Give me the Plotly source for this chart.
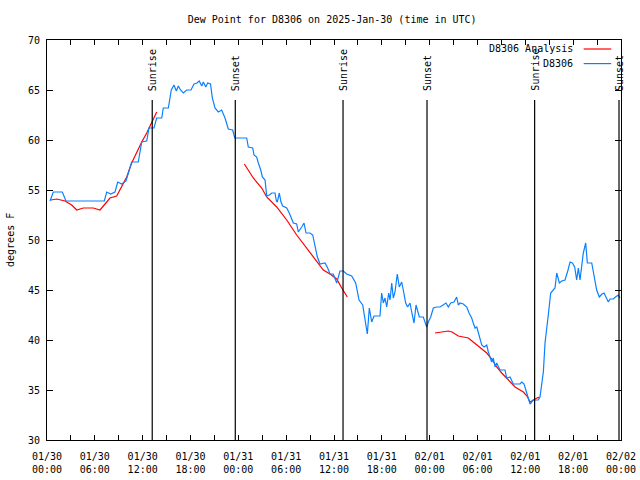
import pandas as pd
import plotly.graph_objects as go

START = pd.Timestamp("2025-01-30 00:00")
END = pd.Timestamp("2025-02-02 00:00")

# Observed dew point (hours since 2025-01-30 00:00 UTC, degrees F)
obs_hours = [0.38,0.79,1.92,2.38,7.19,7.49,7.99,8.53,8.87,9.37,
             9.91,10.20,10.62,11.45,11.88,12.51,12.79,13.42,13.76,14.39,
             14.59,15.22,15.59,15.93,16.22,16.47,16.75,17.10,17.52,18.06,
             18.44,18.82,19.10,19.41,19.61,19.91,20.16,20.51,20.74,21.07,
             21.49,21.91,22.33,22.74,23.29,23.55,25.05,25.25,25.80,25.97,
             26.30,26.51,26.81,27.01,27.35,27.56,27.89,28.19,28.60,28.77,
             28.89,29.14,29.35,29.57,30.07,30.39,30.90,31.32,31.52,31.95,
             32.24,32.49,32.99,33.33,33.62,33.91,34.25,34.87,35.21,35.50,
             35.91,36.34,36.75,37.17,37.59,38.22,38.72,39.14,39.60,39.89,
             40.18,40.43,40.73,41.02,41.77,41.98,42.19,42.40,42.61,42.86,
             43.03,43.24,43.44,43.65,43.94,44.19,44.49,44.69,44.99,45.24,
             45.53,45.82,46.04,46.29,46.50,46.70,47.20,47.42,47.63,47.83,
             48.13,48.46,48.88,49.30,49.64,50.05,50.34,50.64,51.05,51.39,
             51.59,51.81,52.22,52.65,52.94,53.27,53.47,53.69,53.91,54.11,
             54.53,54.82,55.16,55.36,55.57,55.78,55.98,56.20,56.41,56.61,
             56.82,57.45,57.66,58.08,58.49,59.33,59.55,59.84,60.17,60.59,
             61.00,61.63,61.84,62.05,62.26,62.47,62.68,62.88,63.18,63.72,
             63.94,64.27,64.57,64.98,65.32,65.61,65.90,66.19,66.44,66.65,
             66.86,67.07,67.27,67.57,67.78,68.33,68.61,68.95,69.28,69.62,
             69.87,70.21,70.41,70.62,71.04,71.31,71.66,71.88]
obs_values = [53.9,54.8,54.8,53.9,53.9,54.8,54.6,54.8,55.8,55.6,
              55.9,56.8,57.8,57.8,59.8,59.9,61.2,61.2,62.2,62.2,
              63.2,63.2,65.0,65.5,64.9,65.4,65.0,64.7,65.0,65.0,
              65.6,65.7,65.9,65.4,65.8,65.3,65.7,65.6,64.2,63.2,
              62.8,63.0,62.2,61.1,61.0,60.2,60.2,59.3,59.2,58.5,
              58.3,57.7,57.0,56.3,56.0,54.4,54.5,54.7,54.7,53.9,
              53.8,54.7,53.8,53.4,53.2,52.7,51.7,51.6,50.8,51.3,
              51.7,50.7,50.7,50.5,49.5,48.3,47.6,47.7,47.2,46.6,
              46.6,45.7,46.9,46.9,46.6,46.4,45.7,44.0,43.5,42.1,
              40.6,43.2,41.8,42.4,42.4,44.7,43.7,44.2,43.3,44.7,
              44.0,45.7,44.2,44.8,46.6,45.3,45.8,45.0,43.7,43.3,
              43.7,42.5,41.7,43.5,42.8,42.3,42.3,41.7,41.3,41.8,
              42.3,43.2,43.3,43.3,43.5,43.7,43.3,43.7,43.8,44.3,
              43.5,43.7,43.6,43.3,42.7,42.2,41.7,41.2,41.3,40.7,
              39.5,39.3,39.5,38.8,38.3,37.8,38.2,37.3,37.7,37.3,
              37.0,37.0,36.2,36.3,35.6,35.6,35.8,35.6,34.7,33.6,
              34.0,34.0,34.3,35.7,36.8,39.7,41.5,42.5,44.7,45.2,
              46.7,45.7,45.9,46.0,46.9,47.8,47.7,47.3,46.0,47.2,
              46.0,47.3,48.7,49.7,47.7,47.7,46.3,45.0,44.3,44.6,
              44.7,44.1,43.8,44.1,44.1,44.3,44.5,44.2]

# Analysis (three separate segments)
ana1_hours = [0.50,1.22,2.26,3.10,3.73,4.55,5.81,6.65,7.28,7.90,8.74,9.37,10.00,
              10.62,11.25,11.88,12.51,13.13,13.76]
ana1_values = [54.0,54.1,53.9,53.5,53.0,53.2,53.2,53.0,53.6,54.2,54.4,55.3,56.3,
               57.7,58.8,59.8,60.7,61.7,62.8]
ana2_hours = [24.75,25.88,26.93,27.56,28.81,30.07,31.32,32.58,33.83,34.66,35.50,
              36.34,36.97,37.67]
ana2_values = [57.6,56.2,55.2,54.3,53.3,52.0,50.5,49.2,47.8,47.0,46.6,46.1,45.2,44.3]
ana3_hours = [48.67,49.51,50.34,50.80,51.59,52.22,52.85,53.31,53.91,54.53,55.16,
              55.78,56.41,57.04,57.66,58.20,58.71,59.33,59.75,60.21,60.59,61.21,61.75]
ana3_values = [40.7,40.8,40.9,40.8,40.4,40.3,40.2,39.9,39.5,39.1,38.7,38.1,37.3,
               36.7,36.2,35.7,35.3,35.0,34.8,34.4,33.8,34.1,34.3]

sun_times = ["2025-01-30 13:12", "2025-01-30 23:37", "2025-01-31 13:08",
             "2025-01-31 23:40", "2025-02-01 13:10", "2025-02-01 23:45"]
sun_labels = ["Sunrise", "Sunset", "Sunrise", "Sunset", "Sunrise", "Sunset"]

tick_hours = list(range(0, 73, 3))
tick_labels = ["01/30<br>00:00", "", "01/30<br>06:00", "", "01/30<br>12:00", "",
               "01/30<br>18:00", "", "01/31<br>00:00", "", "01/31<br>06:00", "",
               "01/31<br>12:00", "", "01/31<br>18:00", "", "02/01<br>00:00", "",
               "02/01<br>06:00", "", "02/01<br>12:00", "", "02/01<br>18:00", "",
               "02/02<br>00:00"]

FONT = "DejaVu Sans Mono"
RED = "#ff0000"
BLUE = "#0a80ff"


def to_time(hours):
    return [START + pd.Timedelta(hours=h) for h in hours]


ana_x, ana_y = [], []
for hs, vs in [(ana1_hours, ana1_values), (ana2_hours, ana2_values), (ana3_hours, ana3_values)]:
    if ana_x:
        ana_x.append(START + pd.Timedelta(hours=(hs[0] - 0.01)))
        ana_y.append(None)
    ana_x += to_time(hs)
    ana_y += vs

fig = go.Figure()
fig.add_trace(go.Scatter(x=ana_x, y=ana_y, mode="lines", name="D8306 Analysis",
                         line=dict(color=RED, width=1.2), connectgaps=False, showlegend=False))
fig.add_trace(go.Scatter(x=to_time(obs_hours), y=obs_values, mode="lines", name="D8306",
                         line=dict(color=BLUE, width=1.2), showlegend=False))

for t, lab in zip(sun_times, sun_labels):
    fig.add_shape(type="line", xref="x", yref="y", x0=t, x1=t, y0=30, y1=64,
                  line=dict(color="black", width=1.2))
    fig.add_annotation(x=t, y=64.7, xref="x", yref="y", text=lab, textangle=-90,
                       showarrow=False, xanchor="center", yanchor="bottom",
                       font=dict(family=FONT, size=10, color="black"))

# gnuplot-style legend: text on the left, line sample on the right
legend_rows = [("D8306 Analysis", RED, 0.9775), ("D8306", BLUE, 0.941)]
for name, col, py in legend_rows:
    fig.add_annotation(x=0.92, y=py, xref="paper", yref="paper", text=name,
                       showarrow=False, xanchor="right", yanchor="middle",
                       font=dict(family=FONT, size=10, color="black"))
    fig.add_shape(type="line", xref="paper", yref="paper", x0=0.935, x1=0.983,
                  y0=py, y1=py, line=dict(color=col, width=1.2))

fig.add_annotation(x=-0.0645, y=0.5, xref="paper", yref="paper", text="degrees F",
                   textangle=-90, showarrow=False, xanchor="center", yanchor="middle",
                   font=dict(family=FONT, size=10, color="black"))

fig.update_layout(
    width=640, height=480,
    margin=dict(l=47, r=19, t=40, b=40),
    paper_bgcolor="white", plot_bgcolor="white",
    font=dict(family=FONT, size=10, color="black"),
    title=dict(text="Dew Point for D8306 on 2025-Jan-30 (time in UTC)",
               x=0.519, xanchor="center", y=0.96, yanchor="middle",
               font=dict(family=FONT, size=10, color="black")),
    showlegend=False,
)
fig.update_xaxes(
    range=[START, END], tickmode="array", tickvals=to_time(tick_hours), ticktext=tick_labels,
    ticks="inside", ticklen=5, tickcolor="black", showline=True, linecolor="black",
    linewidth=1, mirror="ticks", showgrid=False, zeroline=False, automargin=False,
    ticklabelstandoff=7,
    tickfont=dict(family=FONT, size=10, color="black"),
)
fig.update_yaxes(
    range=[30, 70], dtick=5, tick0=30, ticks="inside", ticklen=6, tickcolor="black",
    showline=True, linecolor="black", linewidth=1, mirror="ticks", showgrid=False,
    zeroline=False, automargin=False, ticklabelstandoff=4,
    tickfont=dict(family=FONT, size=10, color="black"),
)

fig.write_html("out.html", config={"displayModeBar": False},
               post_script="document.body.style.margin='0';document.body.style.overflow='hidden';")
